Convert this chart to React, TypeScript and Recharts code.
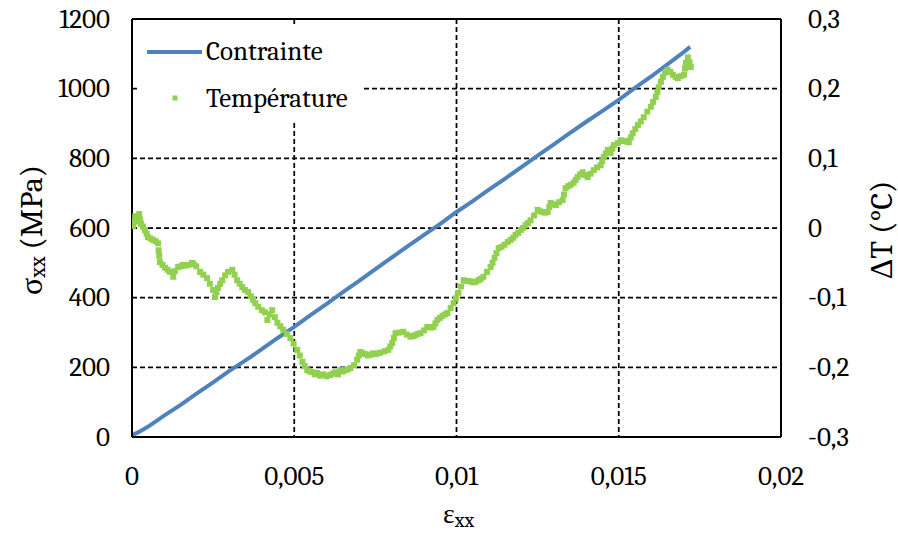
import React from 'react';
import {
  ComposedChart,
  Line,
  Scatter,
  XAxis,
  YAxis,
  CartesianGrid,
  ReferenceLine,
  Legend,
} from 'recharts';

const strainTicks = [0, 0.005, 0.01, 0.015, 0.02];
const stressTicks = [0, 200, 400, 600, 800, 1000, 1200];
const tempTicks = [-0.3, -0.2, -0.1, 0, 0.1, 0.2, 0.3];

const seriesNames = ['Contrainte', 'Température'];

// Contrainte: [strain, stress (MPa)]
const contraintePoints: [number, number][] = [
  [0, 5], [0.0002, 14], [0.0005, 30], [0.001, 62], [0.0015, 92], [0.002, 125],
  [0.0025, 157], [0.003, 190], [0.0035, 220], [0.004, 252], [0.0045, 285], [0.005, 316],
  [0.0055, 350], [0.006, 382], [0.0065, 416], [0.007, 448], [0.0075, 482], [0.008, 515],
  [0.0085, 548], [0.009, 580], [0.0095, 612], [0.01, 646], [0.0105, 677], [0.011, 710],
  [0.0115, 742], [0.012, 775], [0.0125, 808], [0.013, 840], [0.0135, 873], [0.014, 905],
  [0.0145, 936], [0.015, 968], [0.0155, 1002], [0.016, 1035], [0.0165, 1070], [0.017, 1105],
  [0.0172, 1120],
];

// Température: [strain, ΔT (°C)]
const temperaturePoints: [number, number][] = [
  [0.00003, 0.003], [0.00008, 0.01], [0.0001, 0.017], [0.00015, 0.009], [0.00022, 0.02],
  [0.00025, 0.012], [0.00028, 0.006], [0.00034, 0.002], [0.0004, -0.003], [0.00045, -0.008],
  [0.00049, -0.013], [0.00057, -0.015], [0.00065, -0.017], [0.00073, -0.019], [0.0008, -0.022],
  [0.00082, -0.032], [0.00084, -0.04], [0.00086, -0.049], [0.00094, -0.053], [0.00102, -0.057],
  [0.0011, -0.06], [0.00117, -0.063], [0.00127, -0.07], [0.00132, -0.062], [0.00142, -0.056],
  [0.0015, -0.055], [0.00157, -0.053], [0.00165, -0.054], [0.00173, -0.053], [0.00185, -0.05],
  [0.0019, -0.052], [0.00198, -0.055], [0.0021, -0.063], [0.0022, -0.067], [0.00231, -0.072],
  [0.0024, -0.08], [0.0025, -0.089], [0.00256, -0.099], [0.0026, -0.092], [0.00265, -0.086],
  [0.00272, -0.08], [0.00278, -0.075], [0.00287, -0.068], [0.00296, -0.063], [0.00309, -0.06],
  [0.00316, -0.067], [0.00324, -0.075], [0.00332, -0.08], [0.0034, -0.085], [0.00348, -0.089],
  [0.00358, -0.092], [0.00366, -0.098], [0.00373, -0.103], [0.0038, -0.108], [0.00389, -0.113],
  [0.004, -0.118], [0.0041, -0.121], [0.00417, -0.132], [0.00425, -0.124], [0.00432, -0.118],
  [0.0044, -0.128], [0.00448, -0.136], [0.00457, -0.141], [0.00466, -0.146], [0.00477, -0.152],
  [0.00488, -0.158], [0.00498, -0.166], [0.00509, -0.175], [0.00517, -0.183], [0.00525, -0.192],
  [0.00532, -0.198], [0.0054, -0.204], [0.00548, -0.206], [0.00556, -0.207], [0.00564, -0.21],
  [0.00571, -0.208], [0.0058, -0.212], [0.0059, -0.21], [0.006, -0.213], [0.00611, -0.211],
  [0.00619, -0.209], [0.00627, -0.207], [0.00635, -0.21], [0.00642, -0.204], [0.0065, -0.206],
  [0.00657, -0.204], [0.00665, -0.203], [0.00673, -0.201], [0.00684, -0.197], [0.00694, -0.189],
  [0.00699, -0.183], [0.00704, -0.178], [0.00712, -0.18], [0.00719, -0.181], [0.00727, -0.183],
  [0.00735, -0.182], [0.00742, -0.18], [0.0075, -0.181], [0.00758, -0.18], [0.00765, -0.179],
  [0.00778, -0.177], [0.0079, -0.175], [0.00796, -0.17], [0.00802, -0.165], [0.00807, -0.158],
  [0.00812, -0.151], [0.00824, -0.15], [0.00836, -0.149], [0.00847, -0.153], [0.00858, -0.156],
  [0.00866, -0.155], [0.00873, -0.154], [0.00881, -0.152], [0.00889, -0.151], [0.009, -0.147],
  [0.0091, -0.142], [0.0092, -0.143], [0.00929, -0.142], [0.00935, -0.137], [0.00941, -0.132],
  [0.00949, -0.129], [0.00957, -0.126], [0.00965, -0.124], [0.00972, -0.122], [0.00982, -0.115],
  [0.00991, -0.108], [0.00998, -0.101], [0.01006, -0.093], [0.01014, -0.084], [0.01022, -0.075],
  [0.0103, -0.076], [0.01037, -0.076], [0.01045, -0.077], [0.01052, -0.078], [0.0106, -0.077],
  [0.01068, -0.075], [0.01075, -0.073], [0.01083, -0.07], [0.01094, -0.063], [0.01105, -0.056],
  [0.01111, -0.05], [0.01117, -0.043], [0.01123, -0.036], [0.0113, -0.029], [0.01139, -0.027],
  [0.01148, -0.024], [0.01158, -0.02], [0.01167, -0.017], [0.01175, -0.014], [0.01182, -0.01],
  [0.0119, -0.007], [0.01198, -0.003], [0.01205, 0.0], [0.01213, 0.004], [0.0122, 0.007],
  [0.01228, 0.011], [0.01239, 0.018], [0.0125, 0.026], [0.01258, 0.024], [0.01265, 0.023],
  [0.01273, 0.022], [0.01281, 0.023], [0.01286, 0.03], [0.0129, 0.036], [0.01298, 0.034],
  [0.01306, 0.033], [0.01316, 0.037], [0.01327, 0.04], [0.01331, 0.048], [0.01336, 0.057],
  [0.01344, 0.06], [0.01352, 0.062], [0.01361, 0.065], [0.01367, 0.069], [0.01373, 0.073],
  [0.01381, 0.077], [0.01389, 0.08], [0.01396, 0.076], [0.01404, 0.073], [0.01413, 0.078],
  [0.01423, 0.083], [0.01433, 0.087], [0.01444, 0.09], [0.01449, 0.096], [0.01454, 0.102],
  [0.0146, 0.107], [0.01466, 0.112], [0.01475, 0.108], [0.0148, 0.114], [0.01485, 0.119],
  [0.01497, 0.122], [0.01506, 0.126], [0.01512, 0.125], [0.01519, 0.125], [0.01525, 0.124],
  [0.01531, 0.123], [0.01537, 0.13], [0.01543, 0.136], [0.01551, 0.142], [0.01559, 0.148],
  [0.01568, 0.153], [0.01577, 0.159], [0.01588, 0.167], [0.01599, 0.174], [0.01606, 0.181],
  [0.01614, 0.188], [0.01619, 0.195], [0.01623, 0.202], [0.0163, 0.21], [0.01636, 0.217],
  [0.01643, 0.223], [0.01651, 0.227], [0.01659, 0.224], [0.01667, 0.22], [0.01675, 0.217],
  [0.01682, 0.215], [0.01692, 0.218], [0.01701, 0.22], [0.01704, 0.229], [0.01707, 0.237],
  [0.01713, 0.245], [0.01718, 0.238], [0.01722, 0.231],
];

const contrainteData = contraintePoints.map(([x, y]) => ({ x, y }));
const temperatureData = temperaturePoints.map(([x, y]) => ({ x, y }));

const FONT = 'Cambria, Caladea, "Liberation Serif", serif';
const FS = 27;
const TITLE_FS = 32;
const BLUE = '#4F81BD';
const GREEN = '#92D050';

const fmt = (v: number) => String(v).replace('.', ',');

const SquareDot = (props: any) => {
  const { cx, cy } = props;
  if (cx == null || cy == null) return null;
  return <rect x={cx - 3} y={cy - 3} width={6} height={6} fill={GREEN} />;
};

const makeTick = (anchor: 'start' | 'middle' | 'end', vertical: boolean) => (props: any) => {
  const { x, y, payload } = props;
  return (
    <text
      x={x}
      y={y}
      textAnchor={anchor}
      dominantBaseline={vertical ? 'central' : 'hanging'}
      fontFamily={FONT}
      fontSize={FS}
      fill="#000"
    >
      {fmt(payload.value)}
    </text>
  );
};

const LeftTick = makeTick('end', true);
const RightTick = makeTick('start', true);
const BottomTick = makeTick('middle', false);

const LeftLabel = (props: any) => {
  const vb = props.viewBox || {};
  const cx = vb.x + 31;
  const cy = vb.y + vb.height / 2 + 2;
  return (
    <text
      x={cx}
      y={cy}
      transform={`rotate(-90 ${cx} ${cy})`}
      textAnchor="middle"
      dominantBaseline="central"
      fontFamily={FONT}
      fontSize={TITLE_FS}
      fill="#000"
    >
      <tspan>σ</tspan>
      <tspan dy={7} fontSize={22}>xx</tspan>
      <tspan dy={-7}> (MPa)</tspan>
    </text>
  );
};

const RightLabel = (props: any) => {
  const vb = props.viewBox || {};
  const cx = vb.x + vb.width - 17;
  const cy = vb.y + vb.height / 2 + 2;
  return (
    <text
      x={cx}
      y={cy}
      transform={`rotate(-90 ${cx} ${cy})`}
      textAnchor="middle"
      dominantBaseline="central"
      fontFamily={FONT}
      fontSize={TITLE_FS}
      fill="#000"
    >
      ΔT (°C)
    </text>
  );
};

const BottomLabel = (props: any) => {
  const vb = props.viewBox || {};
  const cx = vb.x + vb.width / 2 + 2;
  const cy = vb.y + 86;
  return (
    <text x={cx} y={cy} textAnchor="middle" fontFamily={FONT} fontSize={28} fill="#000">
      <tspan>ε</tspan>
      <tspan dy={4} fontSize={20}>xx</tspan>
    </text>
  );
};

const LegendContent = () => (
  <svg width={224} height={94} style={{ display: 'block', overflow: 'visible' }}>
    <rect x={0} y={0} width={224} height={94} fill="#fff" />
    <line x1={9} y1={26} x2={64} y2={26} stroke={BLUE} strokeWidth={4} />
    <text x={68} y={34} fontFamily={FONT} fontSize={FS} fill="#000">
      {seriesNames[0]}
    </text>
    <rect x={34.5} y={69.5} width={5} height={5} fill={GREEN} />
    <text x={68} y={81} fontFamily={FONT} fontSize={FS} fill="#000">
      {seriesNames[1]}
    </text>
  </svg>
);

export default function App() {
  return (
    <div style={{ position: 'absolute', left: 0, top: 0, width: 898, height: 533, background: '#fff' }}>
      <ComposedChart
        width={898}
        height={533}
        margin={{ top: 19, right: 0, bottom: 0, left: 0 }}
      >
        <CartesianGrid
          yAxisId="left"
          stroke="#000"
          strokeWidth={1.75}
          strokeDasharray="5 3"
          horizontalValues={stressTicks}
          verticalValues={strainTicks}
        />
        <XAxis
          dataKey="x"
          type="number"
          domain={[0, 0.02]}
          ticks={strainTicks}
          height={96}
          tickSize={0}
          tickMargin={29}
          axisLine={{ stroke: '#000', strokeWidth: 2 }}
          tickLine={false}
          tick={<BottomTick />}
          allowDataOverflow
          label={<BottomLabel />}
        />
        <YAxis
          yAxisId="left"
          type="number"
          domain={[0, 1200]}
          ticks={stressTicks}
          width={132}
          tickSize={0}
          tickMargin={22}
          axisLine={{ stroke: '#000', strokeWidth: 2 }}
          tickLine={false}
          tick={<LeftTick />}
          label={<LeftLabel />}
        />
        <YAxis
          yAxisId="right"
          orientation="right"
          type="number"
          domain={[-0.3, 0.3]}
          ticks={tempTicks}
          width={117}
          tickSize={0}
          tickMargin={27}
          axisLine={{ stroke: '#000', strokeWidth: 2 }}
          tickLine={false}
          tick={<RightTick />}
          label={<RightLabel />}
        />
        <ReferenceLine yAxisId="left" y={1200} stroke="#000" strokeWidth={2} />
        <Scatter
          yAxisId="right"
          data={temperatureData}
          dataKey="y"
          name={seriesNames[1]}
          fill={GREEN}
          shape={<SquareDot />}
          isAnimationActive={false}
        />
        <Line
          yAxisId="left"
          data={contrainteData}
          dataKey="y"
          name={seriesNames[0]}
          type="linear"
          stroke={BLUE}
          strokeWidth={4}
          dot={false}
          activeDot={false}
          isAnimationActive={false}
        />
        <Legend
          layout="horizontal"
          verticalAlign="middle"
          align="center"
          content={<LegendContent />}
          wrapperStyle={{ position: 'absolute', left: 138, top: 26, width: 224, height: 94 }}
        />
      </ComposedChart>
    </div>
  );
}
